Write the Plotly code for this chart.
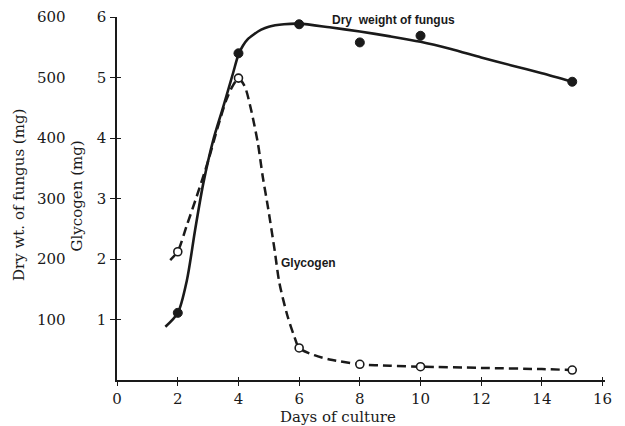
import plotly.graph_objects as go

# Measured points
days = [2, 4, 6, 8, 10, 15]
dry_weight_mg = [111, 540, 588, 558, 569, 493]
glycogen_mg = [2.12, 4.99, 0.53, 0.26, 0.22, 0.165]

# Hand-drawn fitted curves
dry_curve_days = [1.59, 2.0, 2.3, 2.57, 2.84, 3.17, 3.5, 3.82, 4.0, 4.15, 4.3, 4.5, 4.75, 5.0, 5.5, 6.0,
                  7.0, 8.0, 9.0, 10.0, 11.0, 12.0, 13.0, 14.0, 15.0]
dry_curve_mg = [88, 111, 165, 248, 325, 397, 452, 507, 538, 553, 563, 571, 579, 584, 588, 589,
                583, 576, 568, 559, 547, 533, 520, 507, 493]

glyco_curve_days = [1.75, 2.0, 2.3, 2.62, 3.0, 3.3, 3.6, 3.82, 4.0, 4.2, 4.4, 4.64, 4.8, 4.97,
                    5.19, 5.35, 5.62, 5.84, 6.0, 6.5, 7.0, 8.0, 9.0, 10.0, 12.0, 14.0, 15.0]
glyco_curve_mg = [1.98, 2.13, 2.56, 3.03, 3.62, 4.15, 4.63, 4.87, 4.98, 4.86, 4.5, 3.91, 3.36, 2.86,
                  2.15, 1.60, 1.05, 0.72, 0.53, 0.41, 0.34, 0.26, 0.235, 0.22, 0.20, 0.18, 0.165]

x_ticks = [0, 2, 4, 6, 8, 10, 12, 14, 16]
glyco_ticks = [1, 2, 3, 4, 5, 6]
dry_ticks = [100, 200, 300, 400, 500, 600]

OFF = 8  # default page body margin
W, H = 617, 418
ML, MR, MT, MB = 0, 20, 9, 46
PW = W - ML - MR
PH = H - MT - MB
AX0 = 113  # page pixel of y-axis line


def px_x(p):
    return (p - OFF - ML) / PW


def px_y(p):
    return (H - MB - (p - OFF)) / PH


INK = "#1a1a1a"
SERIF = "DejaVu Serif"

fig = go.Figure()

fig.add_trace(go.Scatter(x=dry_curve_days, y=dry_curve_mg, yaxis="y2", mode="lines",
                         line=dict(color=INK, width=2.6, shape="spline", smoothing=0.8),
                         showlegend=False, hoverinfo="skip"))
fig.add_trace(go.Scatter(x=glyco_curve_days, y=glyco_curve_mg, mode="lines",
                         line=dict(color=INK, width=2.5, dash="9px,5px", shape="spline", smoothing=0.8),
                         showlegend=False, hoverinfo="skip"))
fig.add_trace(go.Scatter(x=days, y=dry_weight_mg, yaxis="y2", mode="markers",
                         marker=dict(size=9, color=INK, line=dict(color=INK, width=1)),
                         cliponaxis=False, showlegend=False))
fig.add_trace(go.Scatter(x=days, y=glycogen_mg, mode="markers",
                         marker=dict(size=8, color="white", line=dict(color=INK, width=1.6)),
                         cliponaxis=False, showlegend=False))
# dummy trace to activate the inner-tick overlay axes
fig.add_trace(go.Scatter(x=[None], y=[None], xaxis="x2", yaxis="y3", showlegend=False,
                         hoverinfo="skip"))

tickfont = dict(family=SERIF, size=15, color=INK)

# Dry-weight scale labels, placed on the y2 scale
dry_tick_labels = [dict(text=str(v), xref="paper", yref="y2", x=px_x(63), y=v,
                        xanchor="right", yanchor="middle", showarrow=False,
                        font=tickfont) for v in dry_ticks]

fig.update_layout(
    width=W, height=H,
    margin=dict(l=ML, r=MR, t=MT, b=MB),
    paper_bgcolor="white", plot_bgcolor="white",
    xaxis=dict(domain=[px_x(AX0), 1], range=[0, 16.08], tickvals=x_ticks,
               ticks="outside", ticklen=4, tickwidth=1.3, tickcolor=INK,
               showline=True, linecolor=INK, linewidth=1.5, showgrid=False, zeroline=False,
               tickfont=tickfont, ticklabelstandoff=0),
    xaxis2=dict(overlaying="x", anchor="y", range=[0, 16.08], tickvals=x_ticks,
                ticks="inside", ticklen=3, tickwidth=1.3, tickcolor=INK,
                showticklabels=False, showline=False, showgrid=False, zeroline=False),
    yaxis=dict(anchor="x", range=[0, 6], tickvals=glyco_ticks,
               ticks="outside", ticklen=5, tickwidth=1.3, tickcolor=INK,
               showline=True, linecolor=INK, linewidth=1.5, showgrid=False, zeroline=False,
               tickfont=tickfont, ticklabelstandoff=1),
    yaxis3=dict(overlaying="y", anchor="x", range=[0, 6], tickvals=glyco_ticks,
                ticks="inside", ticklen=4, tickwidth=1.3, tickcolor=INK,
                showticklabels=False, showline=False, showgrid=False, zeroline=False),
    yaxis2=dict(overlaying="y", anchor="x", side="left", range=[0, 600],
                showticklabels=False, ticks="", showline=False,
                showgrid=False, zeroline=False),
    annotations=dry_tick_labels + [
        dict(text="Dry wt. of fungus (mg)", xref="paper", yref="paper",
             x=px_x(14), y=px_y(195), textangle=-90, showarrow=False,
             xanchor="center", yanchor="middle", font=dict(family=SERIF, size=15, color=INK)),
        dict(text="Glycogen (mg)", xref="paper", yref="paper",
             x=px_x(73), y=px_y(196), textangle=-90, showarrow=False,
             xanchor="center", yanchor="middle", font=dict(family=SERIF, size=15, color=INK)),
        dict(text="Days of culture", xref="paper", yref="paper",
             x=px_x(336), y=px_y(417), showarrow=False,
             xanchor="center", yanchor="middle", font=dict(family=SERIF, size=15, color=INK)),
        dict(text="<b>Dry  weight of fungus</b>", xref="paper", yref="paper",
             x=px_x(392), y=px_y(20), showarrow=False,
             xanchor="center", yanchor="middle",
             font=dict(family="Liberation Sans", size=12, color=INK)),
        dict(text="<b>Glycogen</b>", xref="paper", yref="paper",
             x=px_x(306), y=px_y(263), showarrow=False,
             xanchor="center", yanchor="middle",
             font=dict(family="Liberation Sans", size=12, color=INK)),
    ],
)

fig.write_html("out.html")
